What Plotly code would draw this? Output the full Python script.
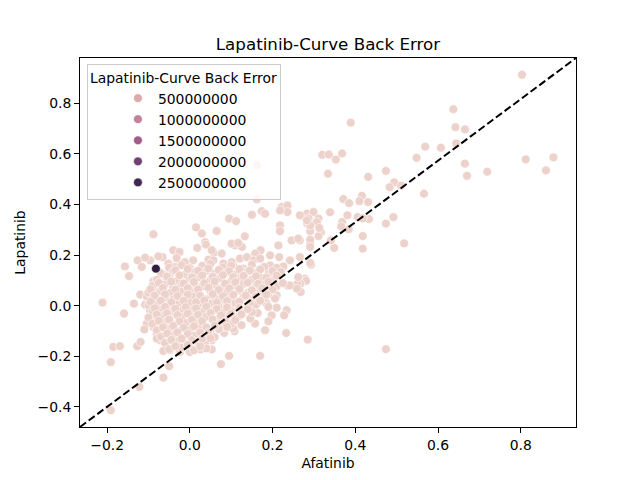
import numpy as np
import plotly.graph_objects as go

title_text = "Lapatinib-Curve Back Error"
x_label = "Afatinib"
y_label = "Lapatinib"

# (Afatinib, Lapatinib) pairs: sparse outer points
outer_points = [
    (0.803, 0.912), (0.637, 0.776), (0.389, 0.723), (0.642, 0.705), (0.665, 0.696),
    (0.644, 0.641), (0.569, 0.628), (0.607, 0.624), (0.548, 0.584), (0.320, 0.596),
    (0.336, 0.597), (0.368, 0.601), (0.353, 0.577), (0.812, 0.578), (0.879, 0.586),
    (0.861, 0.534), (0.665, 0.561), (0.670, 0.513), (0.719, 0.529), (0.334, 0.521),
    (0.474, 0.532), (0.431, 0.509), (0.494, 0.487), (0.483, 0.468), (0.511, 0.474),
    (0.566, 0.442), (0.371, 0.421), (0.385, 0.405), (0.416, 0.434), (0.410, 0.413),
    (0.431, 0.409), (0.339, 0.369), (0.381, 0.357), (0.406, 0.350), (0.433, 0.342),
    (0.418, 0.345), (0.492, 0.350), (0.474, 0.324), (0.368, 0.330), (0.366, 0.313),
    (0.384, 0.302), (0.418, 0.275), (0.518, 0.246), (0.418, 0.225), (0.349, 0.228),
    (0.341, 0.258), (0.283, 0.363), (0.299, 0.370), (0.311, 0.344), (0.287, 0.344),
    (0.305, 0.324), (0.284, 0.324), (0.291, 0.294), (0.317, 0.289), (0.311, 0.275),
    (0.266, 0.357), (0.266, 0.258), (0.291, 0.247), (0.162, 0.554),
    (0.293, 0.162), (0.278, 0.107), (0.281, 0.098), (0.267, 0.087), (0.268, 0.054),
    (0.285, -0.134), (0.474, -0.172),
    (0.260, 0.087), (0.237, 0.079), (0.210, 0.041), (0.186, 0.008), (0.210, -0.008),
    (0.234, -0.018), (0.164, -0.029), (0.198, -0.038), (0.228, -0.038), (0.190, -0.062),
    (0.158, -0.071), (0.125, -0.077), (0.182, -0.097), (0.233, -0.108), (0.108, -0.101),
    (0.083, -0.108), (0.095, -0.198), (0.170, -0.198), (0.075, -0.231), (0.053, -0.173),
    (0.053, -0.137), (0.148, -0.011), (0.170, 0.021), (0.154, 0.054), (0.194, 0.061),
    (0.126, -0.031), (0.105, -0.064), (0.081, -0.084),
    (-0.211, 0.012), (-0.159, -0.031), (-0.135, 0.008), (-0.120, 0.044), (-0.185, -0.163),
    (-0.169, -0.160), (-0.191, -0.223), (-0.127, -0.160), (-0.119, -0.143), (-0.064, -0.284),
    (-0.050, -0.239), (-0.122, -0.321), (-0.191, -0.413), (-0.104, -0.071),
    (-0.110, -0.094), (-0.096, 0.002), (-0.072, -0.137), (-0.064, -0.179), (-0.048, -0.176),
    (-0.024, -0.183), (0.000, -0.183), (0.026, -0.173), (0.000, -0.150), (-0.024, -0.137),
    (-0.080, -0.110), (-0.088, -0.084),
    (-0.157, 0.155), (-0.147, 0.117), (-0.126, 0.179), (-0.088, 0.097), (-0.059, 0.117),
    (-0.108, 0.004), (-0.104, 0.037), (-0.084, 0.028), (-0.096, -0.018), (-0.084, -0.064),
    (-0.080, -0.130),
    (-0.088, 0.282), (0.015, 0.309), (0.029, 0.285), (0.065, 0.295), (0.037, 0.251),
    (0.018, 0.228), (0.039, 0.241), (-0.040, 0.219), (-0.025, 0.212), (-0.032, 0.188),
    (-0.012, 0.172), (0.008, 0.179), (0.045, 0.182), (0.058, 0.208), (-0.066, 0.192),
    (-0.076, 0.195), (-0.096, 0.179), (-0.108, 0.190), (-0.116, 0.153), (-0.052, 0.166),
    (-0.036, 0.153),
    (0.162, 0.420), (0.174, 0.373), (0.182, 0.363), (0.222, 0.390), (0.236, 0.396),
    (0.236, 0.370), (0.218, 0.376), (0.307, 0.330), (0.291, 0.317), (0.313, 0.307),
    (0.291, 0.261), (0.150, 0.359), (0.095, 0.344), (0.112, 0.334), (0.218, 0.317),
    (0.218, 0.294), (0.133, 0.274), (0.109, 0.238), (0.126, 0.232), (0.214, 0.238),
    (0.246, 0.258), (0.262, 0.265), (0.291, 0.232), (0.171, 0.219), (0.194, 0.199),
    (0.158, 0.206), (0.121, 0.186), (0.138, 0.192), (0.154, 0.179), (0.170, 0.186),
    (0.216, 0.192), (0.242, 0.179), (0.266, 0.192), (0.291, 0.169), (0.057, 0.179),
    (0.081, 0.166), (0.105, 0.159), (0.194, 0.159), (0.226, 0.155),
    (0.283, 0.337), (0.101, 0.245), (0.117, 0.248), (0.053, 0.219), (0.077, 0.206),
    (0.101, 0.172), (-0.060, 0.120), (-0.068, 0.074), (-0.080, 0.054), (0.262, 0.113),
    (0.242, 0.080), (0.259, 0.067), (0.206, 0.028), (0.190, -0.005), (0.146, -0.051),
    (0.105, -0.090),
]

# (Afatinib, Lapatinib) pairs estimated inside the dense central cloud
core_points = [
    (-0.05, 0.150), (-0.02, 0.160), (0.00, 0.148), (0.03, 0.157), (0.05, 0.165), (0.08, 0.151),
    (0.10, 0.158), (0.13, 0.146), (0.15, 0.162), (0.18, 0.153), (0.21, 0.149),
    (-0.07, 0.128), (-0.04, 0.135), (-0.01, 0.124), (0.01, 0.132), (0.04, 0.138), (0.06, 0.126),
    (0.09, 0.131), (0.11, 0.122), (0.14, 0.136), (0.16, 0.129), (0.19, 0.125), (0.22, 0.133),
    (-0.08, 0.102), (-0.05, 0.110), (-0.03, 0.098), (0.00, 0.106), (0.02, 0.112), (0.05, 0.100),
    (0.07, 0.108), (0.10, 0.097), (0.12, 0.109), (0.15, 0.103), (0.17, 0.111), (0.20, 0.099),
    (-0.09, 0.078), (-0.06, 0.084), (-0.04, 0.074), (-0.02, 0.081), (0.01, 0.087), (0.03, 0.076),
    (0.06, 0.083), (0.08, 0.072), (0.11, 0.080), (0.13, 0.086), (0.16, 0.075), (0.18, 0.082),
    (0.21, 0.077),
    (-0.10, 0.052), (-0.07, 0.058), (-0.05, 0.049), (-0.02, 0.056), (0.00, 0.061), (0.02, 0.050),
    (0.05, 0.057), (0.07, 0.047), (0.09, 0.054), (0.12, 0.060), (0.14, 0.051), (0.17, 0.055),
    (0.19, 0.046),
    (-0.09, 0.027), (-0.06, 0.034), (-0.04, 0.024), (-0.01, 0.031), (0.01, 0.036), (0.04, 0.025),
    (0.06, 0.032), (0.08, 0.022), (0.10, 0.029), (0.13, 0.035), (0.15, 0.026), (0.18, 0.030),
    (-0.10, 0.003), (-0.08, 0.009), (-0.05, -0.002), (-0.03, 0.006), (0.00, 0.011), (0.02, 0.000),
    (0.05, 0.007), (0.07, -0.003), (0.09, 0.004), (0.11, 0.010), (0.14, 0.001), (0.16, 0.005),
    (-0.09, -0.022), (-0.07, -0.016), (-0.04, -0.026), (-0.02, -0.019), (0.01, -0.013),
    (0.03, -0.024), (0.06, -0.018), (0.08, -0.028), (0.10, -0.021), (0.13, -0.015), (0.15, -0.025),
    (-0.10, -0.047), (-0.07, -0.041), (-0.05, -0.051), (-0.02, -0.044), (0.00, -0.038),
    (0.02, -0.049), (0.04, -0.043), (0.07, -0.053), (0.09, -0.046), (0.12, -0.040),
    (-0.09, -0.072), (-0.06, -0.066), (-0.04, -0.076), (-0.01, -0.069), (0.01, -0.063),
    (0.03, -0.074), (0.06, -0.068), (0.08, -0.078), (0.10, -0.071),
    (-0.08, -0.097), (-0.05, -0.091), (-0.03, -0.101), (0.00, -0.094), (0.02, -0.088),
    (0.05, -0.099), (0.07, -0.093),
    (-0.07, -0.122), (-0.04, -0.116), (-0.02, -0.126), (0.01, -0.119), (0.03, -0.113),
    (0.06, -0.124),
    (-0.06, -0.147), (-0.03, -0.141), (-0.01, -0.151), (0.02, -0.144), (0.04, -0.139),
    (-0.05, -0.172), (-0.02, -0.166), (0.01, -0.176), (0.04, -0.169),
]

# more (Afatinib, Lapatinib) pairs between the rows above, where the cloud overlaps most
core_points_between = [
    (-0.035, 0.140), (-0.005, 0.145), (0.020, 0.138), (0.045, 0.147), (0.070, 0.141),
    (0.095, 0.136), (0.120, 0.144), (0.145, 0.139), (0.170, 0.143), (0.200, 0.137),
    (-0.055, 0.115), (-0.025, 0.120), (0.005, 0.112), (0.030, 0.119), (0.055, 0.114),
    (0.080, 0.121), (0.105, 0.113), (0.130, 0.118), (0.160, 0.116), (0.185, 0.111), (0.210, 0.119),
    (-0.075, 0.090), (-0.045, 0.095), (-0.015, 0.088), (0.010, 0.094), (0.035, 0.089),
    (0.060, 0.096), (0.085, 0.087), (0.110, 0.093), (0.140, 0.091), (0.165, 0.086),
    (0.190, 0.094), (0.225, 0.089),
    (-0.095, 0.065), (-0.065, 0.070), (-0.035, 0.063), (-0.005, 0.069), (0.020, 0.064),
    (0.045, 0.071), (0.070, 0.062), (0.095, 0.068), (0.120, 0.066), (0.150, 0.061),
    (0.175, 0.069), (0.200, 0.064),
    (-0.085, 0.040), (-0.060, 0.045), (-0.030, 0.038), (-0.005, 0.044), (0.025, 0.039),
    (0.055, 0.046), (0.080, 0.037), (0.105, 0.043), (0.135, 0.041), (0.160, 0.036), (0.185, 0.044),
    (-0.095, 0.015), (-0.070, 0.020), (-0.045, 0.013), (-0.015, 0.019), (0.015, 0.014),
    (0.035, 0.021), (0.065, 0.012), (0.090, 0.018), (0.120, 0.016), (0.145, 0.011), (0.170, 0.019),
    (-0.085, -0.010), (-0.060, -0.005), (-0.035, -0.012), (-0.010, -0.006), (0.015, -0.011),
    (0.040, -0.004), (0.065, -0.013), (0.090, -0.007), (0.120, -0.009), (0.140, -0.014),
    (-0.080, -0.035), (-0.055, -0.030), (-0.030, -0.037), (-0.005, -0.031), (0.020, -0.036),
    (0.050, -0.029), (0.075, -0.038), (0.100, -0.032), (0.125, -0.034),
    (-0.075, -0.060), (-0.050, -0.055), (-0.025, -0.062), (0.005, -0.056), (0.030, -0.061),
    (0.055, -0.054), (0.085, -0.063), (0.110, -0.057),
    (-0.065, -0.085), (-0.040, -0.080), (-0.015, -0.087), (0.010, -0.081), (0.040, -0.086),
    (0.060, -0.079), (0.090, -0.084),
    (-0.055, -0.110), (-0.030, -0.105), (-0.005, -0.112), (0.025, -0.106), (0.045, -0.109),
    (-0.045, -0.135), (-0.020, -0.130), (0.005, -0.136), (0.030, -0.131), (0.050, -0.129),
    (-0.035, -0.160), (-0.005, -0.155), (0.025, -0.161),
]

# the single high-error point
dark_afatinib = [-0.082]
dark_lapatinib = [0.146]
dark_hue = [2.7e9]
light_hue = 3.0e7

legend_levels = [500000000, 1000000000, 1500000000, 2000000000, 2500000000]
x_ticks = [-0.2, 0.0, 0.2, 0.4, 0.6, 0.8]
y_ticks = [-0.4, -0.2, 0.0, 0.2, 0.4, 0.6, 0.8]


def cubehelix(t):
    """seaborn default sequential palette (light -> dark), t in [0, 1]"""
    t = np.asarray(t, dtype=float)
    x = 0.85 + (0.15 - 0.85) * t
    a = 0.8 * x * (1 - x) / 2
    phi = 2 * np.pi * (0.4 * x)
    r = x + a * (-0.14861 * np.cos(phi) + 1.78277 * np.sin(phi))
    g = x + a * (-0.29227 * np.cos(phi) - 0.90649 * np.sin(phi))
    b = x + a * (1.97294 * np.cos(phi))
    rgb = np.clip(np.stack([r, g, b], axis=-1), 0, 1)
    return rgb


def to_css(rgb):
    return "rgb(%d,%d,%d)" % tuple(int(round(v * 255)) for v in rgb)


pts = outer_points + core_points + core_points_between
xs = [p[0] for p in pts] + dark_afatinib
ys = [p[1] for p in pts] + dark_lapatinib
hues = [light_hue] * len(pts) + dark_hue

hmin, hmax = min(hues), max(hues)
stops = np.linspace(0, 1, 21)
colorscale = [[float(s), to_css(c)] for s, c in zip(stops, cubehelix(stops))]

fig = go.Figure()
fig.add_trace(go.Scatter(
    x=xs, y=ys, mode="markers", showlegend=False,
    marker=dict(color=hues, colorscale=colorscale, cmin=hmin, cmax=hmax,
                size=8.8, line=dict(color="white", width=0.6)),
))

for lvl in legend_levels:
    c = cubehelix((lvl - hmin) / (hmax - hmin))
    fig.add_trace(go.Scatter(
        x=[None], y=[None], mode="markers", name=str(lvl),
        marker=dict(color=to_css(c), size=8.8, line=dict(color="white", width=0.6)),
    ))

xspan = max(xs) - min(xs)
yspan = max(ys) - min(ys)
xr = [min(xs) - 0.05 * xspan, max(xs) + 0.05 * xspan]
yr = [min(ys) - 0.05 * yspan, max(ys) + 0.05 * yspan]

# dashed diagonal across the axes, corner to corner
fig.add_shape(type="line", xref="x domain", yref="y domain", x0=0, y0=0, x1=1, y1=1,
              line=dict(color="black", width=2, dash="7.5px,3.3px"), layer="above")

fig.update_layout(
    width=640, height=480,
    margin=dict(l=80, r=64, t=58, b=53),
    paper_bgcolor="white", plot_bgcolor="white",
    font=dict(family="DejaVu Sans", size=13.9, color="black"),
    title=dict(text=title_text, x=0.5, xref="paper", xanchor="center",
               y=1 - 44 / 480, yref="container", yanchor="middle",
               font=dict(size=16.7)),
    legend=dict(x=0.014, y=0.985, xanchor="left", yanchor="top",
                bgcolor="rgba(255,255,255,0.8)", bordercolor="#cccccc", borderwidth=1,
                title=dict(text=title_text, font=dict(size=13.9)),
                font=dict(size=13.9), indentation=30),
)
axis_common = dict(ticks="outside", ticklen=4.9, tickwidth=1.1, tickcolor="black",
                   showline=True, linecolor="black", linewidth=1.1, mirror=True,
                   showgrid=False, zeroline=False, tickformat=".1f",
                   tickfont=dict(size=13.9))
fig.update_xaxes(range=xr, tickvals=x_ticks,
                 title=dict(text=x_label, standoff=6, font=dict(size=13.9)), **axis_common)
fig.update_yaxes(range=yr, tickvals=y_ticks,
                 title=dict(text=y_label, standoff=8, font=dict(size=13.9)), **axis_common)

fig.write_html("out.html", config={"displayModeBar": False},
               post_script="document.body.style.margin='0';")
